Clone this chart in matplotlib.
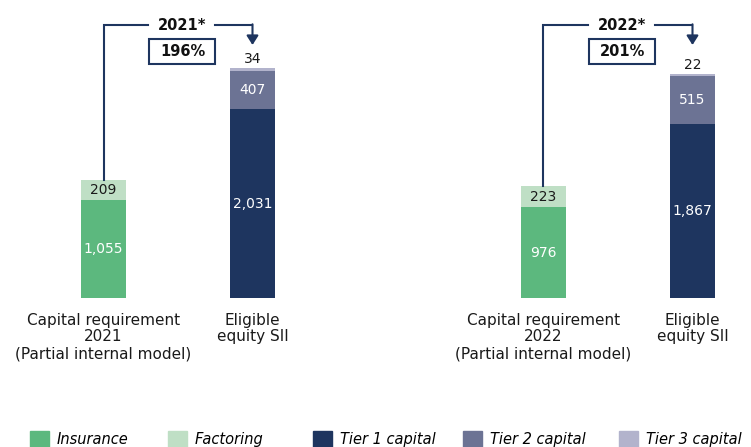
import matplotlib
matplotlib.use("Agg")
import matplotlib.pyplot as plt
from matplotlib.patches import Patch, Rectangle

plt.rcParams['font.family'] = ['DejaVu Sans']

# data
years = ['2021', '2022']
ratios = ['196%', '201%']
insurance = [1055, 976]
factoring = [209, 223]
tier1 = [2031, 1867]
tier2 = [407, 515]
tier3 = [34, 22]
cap_labels = ['Capital requirement\n2021\n(Partial internal model)',
              'Capital requirement\n2022\n(Partial internal model)']
elig_label = 'Eligible\nequity SII'
legend_names = ['Insurance', 'Factoring', 'Tier 1 capital', 'Tier 2 capital', 'Tier 3 capital']

c_ins = '#5cb87e'
c_fac = '#bfdfc5'
c_t1 = '#1e355f'
c_t2 = '#6c7394'
c_t3 = '#b2b3cc'
navy = '#1e355f'
legend_colors = [c_ins, c_fac, c_t1, c_t2, c_t3]

U = 10.75  # value units per pixel
fig = plt.figure(figsize=(7.51, 4.47), dpi=100)
ax = fig.add_axes([0, 0, 1, 1])
ax.set_xlim(-103.5 / 149, (751 - 103.5) / 149)
ax.set_ylim(-149 * U, 298 * U)
ax.axis('off')

w = 45 / 149
cap_x = [0, 2.953]
elig_x = [1, 3.953]


def fmt(v):
    return f'{v:,}'


for i in range(2):
    cx, ex = cap_x[i], elig_x[i]
    ax.bar(cx, insurance[i], w, color=c_ins)
    ax.bar(cx, factoring[i], w, bottom=insurance[i], color=c_fac)
    ax.bar(ex, tier1[i], w, color=c_t1)
    ax.bar(ex, tier2[i], w, bottom=tier1[i], color=c_t2)
    ax.bar(ex, tier3[i], w, bottom=tier1[i] + tier2[i], color=c_t3)

    ax.text(cx, insurance[i] / 2, fmt(insurance[i]), ha='center', va='center',
            color='white', fontsize=10)
    ax.text(cx, insurance[i] + factoring[i] / 2, fmt(factoring[i]), ha='center',
            va='center', color='#1a1a1a', fontsize=10)
    ax.text(ex, tier1[i] / 2, fmt(tier1[i]), ha='center', va='center',
            color='white', fontsize=10)
    ax.text(ex, tier1[i] + tier2[i] / 2, fmt(tier2[i]), ha='center', va='center',
            color='white', fontsize=10)
    etop = tier1[i] + tier2[i] + tier3[i]
    ax.annotate(fmt(tier3[i]), (ex, etop), xytext=(0, 1.5), textcoords='offset points',
                ha='center', va='bottom', color='#1a1a1a', fontsize=10)

    # category labels
    ax.text(cx, -14.5 * U, cap_labels[i], ha='center', va='top', fontsize=11,
            linespacing=1.15, color='#1a1a1a')
    ax.text(ex, -14.5 * U, elig_label, ha='center', va='top', fontsize=11,
            linespacing=1.15, color='#1a1a1a')

    # bracket with arrow
    ctop = insurance[i] + factoring[i]
    yb = 273 * U
    ax.plot([cx, cx, cx + 0.30], [ctop, yb, yb], color=navy, lw=1.5,
            solid_joinstyle='miter')
    ax.plot([ex - 0.25, ex], [yb, yb], color=navy, lw=1.5)
    ax.annotate('', xy=(ex, 253 * U), xytext=(ex, yb + 0.7 * U),
                arrowprops=dict(arrowstyle='-|>,head_length=0.55,head_width=0.35',
                                color=navy, lw=1.5, shrinkA=0, shrinkB=0))
    mx = cx + 0.53
    ax.text(mx, yb, years[i] + '*', ha='center', va='center',
            fontsize=10.5, fontweight='bold', color='#111111')
    bw, bh = 66 / 149, 25 * U
    ax.add_patch(Rectangle((mx - bw / 2, 246.5 * U - bh / 2), bw, bh,
                           fc='white', ec=navy, lw=1.5))
    ax.text(mx, 246.5 * U, ratios[i], ha='center', va='center',
            fontsize=10.5, fontweight='bold', color='#111111')

# legend items placed individually
leg_x = [30, 168, 313, 463, 619]
for name, col, lx in zip(legend_names, legend_colors, leg_x):
    fig.legend(handles=[Patch(color=col, label=name)], loc='upper left',
               bbox_to_anchor=(lx / 751, 1 - 431 / 447), frameon=False,
               borderpad=0, borderaxespad=0, handlelength=1.3, handleheight=1.3,
               handletextpad=0.55, prop={'style': 'italic', 'size': 10.5})

fig.savefig('out.png', dpi=100)
